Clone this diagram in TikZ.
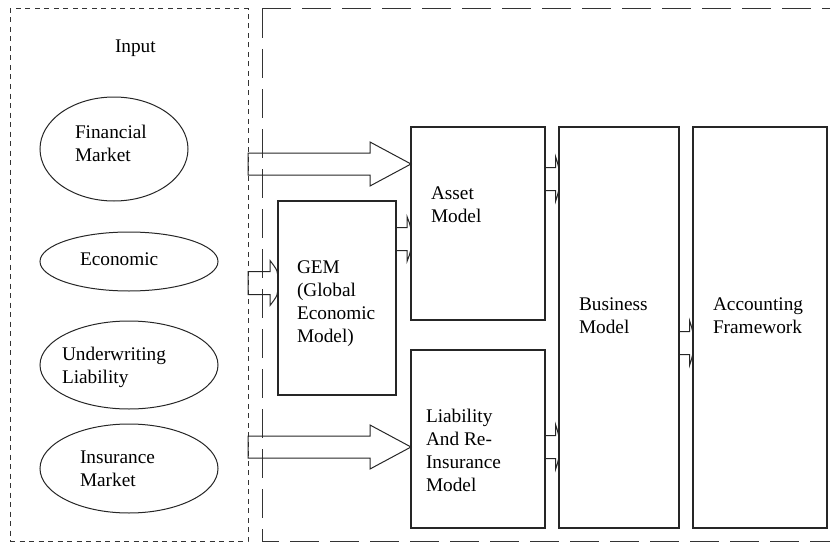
\documentclass[tikz,border=0pt]{standalone}
\usepackage{fontspec}
\setmainfont{Liberation Serif}
\usetikzlibrary{shapes.geometric,calc}
\newcommand{\fst}{\rule{0pt}{14pt}}
\newcommand{\bigarrow}[2]{%
  \draw[conn] ($(#1)+(0,-11)$) -- ($(#2)+(-41,-11)$) -- ($(#2)+(-41,-22)$) -- (#2)
    -- ($(#2)+(-41,22)$) -- ($(#2)+(-41,11)$) -- ($(#1)+(0,11)$) -- cycle;}
\newcommand{\smallarrow}[3]{%
  \draw[conn] ($(#1)+(0,-11.5)$) -- ($(#2)+(-#3,-11.5)$) -- ($(#2)+(-#3,-22.5)$)
    .. controls ($(#2)+(0,-12)$) .. (#2)
    .. controls ($(#2)+(0,12)$) .. ($(#2)+(-#3,22.5)$) -- ($(#2)+(-#3,11.5)$)
    -- ($(#1)+(0,11.5)$) -- cycle;}
\begin{document}
\begin{tikzpicture}[x=1pt,y=-1pt,
  conn/.style={draw=black!85, line width=1pt, line join=miter},
  box/.style={draw=black!85, line width=1.1pt, rectangle, inner sep=0pt, outer sep=0pt, anchor=north west},
  oval/.style={draw=black!85, line width=1pt, ellipse, inner sep=0pt, outer sep=0pt},
  lbl/.style={anchor=north west, inner sep=0pt, outer sep=0pt, align=left, font=\fontsize{19.3pt}{23pt}\selectfont, text=black},
  shortdash/.style={draw=black!80, line width=1pt, dash pattern=on 5pt off 4.5pt},
  longdash/.style={draw=black!80, line width=1pt, dash pattern=on 29pt off 11pt}]
\useasboundingbox (0,0) rectangle (830,543);

% input frame
\node[shortdash, rectangle, inner sep=0pt, outer sep=0pt, anchor=north west,
      minimum width=238pt, minimum height=532pt] (inbox) at (10,9) {};
% model frame (open to the right)
\coordinate (mtl) at (262,9);
\coordinate (mtr) at (830,9);
\coordinate (mbl) at (262,541);
\coordinate (mbr) at (830,541);
\draw[longdash] (mtl) -- (mtr);
\draw[longdash] (mtl) -- (mbl) -- (mbr);

% inputs
\node[lbl] (tinput) at (115,39) {\fst Input};
\node[oval, minimum width=148pt, minimum height=104pt] (fin) at (114,149) {};
\node[oval, minimum width=178pt, minimum height=59pt] (eco) at (129,261.5) {};
\node[oval, minimum width=178pt, minimum height=88pt] (und) at (129,365) {};
\node[oval, minimum width=178pt, minimum height=89pt] (ins) at (129,468.5) {};
\node[lbl] (tfin) at (75,124) {\fst Financial\\Market};
\node[lbl] (teco) at (80,251) {\fst Economic};
\node[lbl] (tund) at (62,346) {\fst Underwriting\\Liability};
\node[lbl] (tins) at (80,449) {\fst Insurance\\Market};

% models
\node[box, minimum width=118pt, minimum height=194pt] (gem) at (278,201) {};
\node[box, minimum width=134pt, minimum height=193pt] (asset) at (411,127) {};
\node[box, minimum width=134pt, minimum height=178pt] (liab) at (411,350) {};
\node[box, minimum width=120pt, minimum height=401pt] (bus) at (559,127) {};
\node[box, minimum width=134pt, minimum height=401pt] (acc) at (693,127) {};
\node[lbl] (tgem) at (297,259) {\fst GEM\\(Global\\Economic\\Model)};
\node[lbl] (tasset) at (431,185) {\fst Asset\\Model};
\node[lbl] (tliab) at (426,408) {\fst Liability\\And Re-\\Insurance\\Model};
\node[lbl] (tbus) at (579,296) {\fst Business\\Model};
\node[lbl] (tacc) at (713,296) {\fst Accounting\\Framework};

% arrow tips and starts
\coordinate (t1) at ($(asset.north west)+(0,37)$);
\coordinate (t2) at ($(gem.north west)+(0,82)$);
\coordinate (t3) at ($(asset.north west)+(0,112)$);
\coordinate (t4) at ($(liab.north west)+(0,97)$);
\coordinate (t5) at ($(bus.north west)+(0,52)$);
\coordinate (t6) at ($(bus.north west)+(0,320)$);
\coordinate (t7) at ($(acc.north west)+(0,216)$);
\coordinate (s1) at (inbox.east |- t1);
\coordinate (s2) at (inbox.east |- t2);
\coordinate (s3) at (gem.east |- t3);
\coordinate (s4) at (inbox.east |- t4);
\coordinate (s5) at (asset.east |- t5);
\coordinate (s6) at (liab.east |- t6);
\coordinate (s7) at (bus.east |- t7);

\bigarrow{s1}{t1}
\bigarrow{s4}{t4}
\smallarrow{s2}{t2}{8}
\smallarrow{s3}{t3}{4}
\smallarrow{s5}{t5}{3.5}
\smallarrow{s6}{t6}{3.5}
\smallarrow{s7}{t7}{3.5}
\end{tikzpicture}
\end{document}
